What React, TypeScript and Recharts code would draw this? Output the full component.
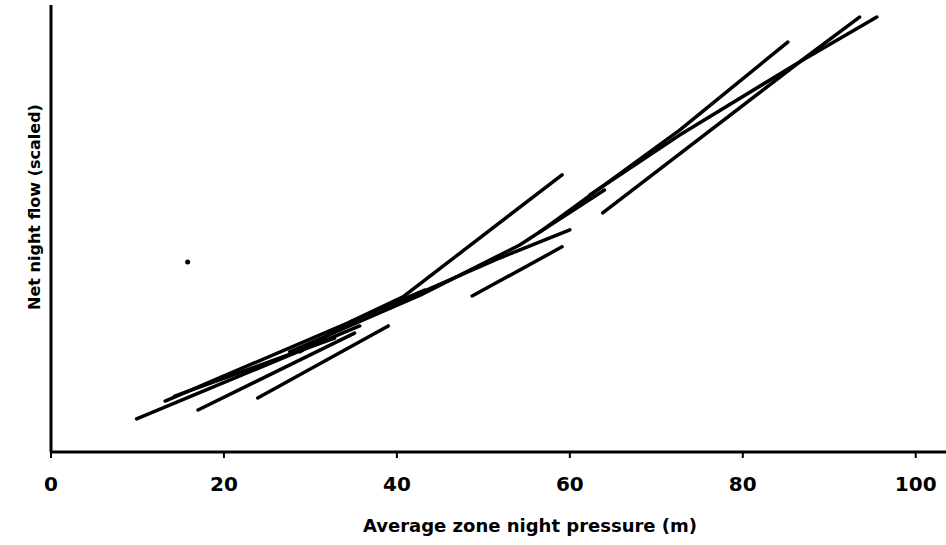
import React from 'react';
import { ComposedChart, Line, Scatter, XAxis, YAxis, Label } from 'recharts';

// Average zone night pressure (m) vs net night flow (scaled) — one fitted segment per zone
const zone1 = [{ p: 9.9, q: 7.4 }, { p: 35.7, q: 28.2 }];
const zone2 = [{ p: 13.2, q: 11.4 }, { p: 43.2, q: 36.2 }];
const zone3 = [{ p: 17.0, q: 9.4 }, { p: 35.1, q: 26.6 }];
const zone4 = [{ p: 23.9, q: 12.1 }, { p: 39.0, q: 28.2 }];
const zone5 = [{ p: 14.3, q: 12.5 }, { p: 32.8, q: 25.5 }];
const zone6 = [{ p: 27.6, q: 22.4 }, { p: 42.7, q: 35.1 }, { p: 54.2, q: 46.3 }, { p: 64.0, q: 58.6 }];
const zone7 = [{ p: 28.8, q: 22.4 }, { p: 34.6, q: 29.1 }, { p: 40.7, q: 34.7 }, { p: 59.1, q: 62.0 }];
const zone8 = [{ p: 48.7, q: 34.9 }, { p: 59.1, q: 45.9 }];
const zone9 = [{ p: 40.3, q: 33.6 }, { p: 51.9, q: 43.4 }, { p: 60.0, q: 49.7 }];
const zone10 = [{ p: 56.5, q: 49.2 }, { p: 72.7, q: 72.0 }, { p: 85.2, q: 91.7 }];
const zone11 = [{ p: 63.8, q: 53.5 }, { p: 86.6, q: 87.3 }, { p: 95.5, q: 97.3 }];
const zone12 = [{ p: 62.3, q: 57.5 }, { p: 72.7, q: 70.9 }, { p: 86.6, q: 87.3 }, { p: 93.5, q: 97.3 }];
const strayMark = [{ p: 15.8, q: 42.5 }];

const zones = [zone1, zone2, zone3, zone4, zone5, zone6, zone7, zone8, zone9, zone10, zone11, zone12];

const xTicks = [0, 20, 40, 60, 80, 100];
const xTitle = 'Average zone night pressure (m)';
const yTitle = 'Net night flow (scaled)';

const FONT = 'DejaVu Sans';

export default function App() {
  return (
    <div style={{ position: 'absolute', left: 0, top: 0, background: '#fff' }}>
      <ComposedChart width={946} height={545} margin={{ top: 5, right: 0, bottom: 0, left: 0 }}>
        <XAxis
          type="number"
          dataKey="p"
          domain={[0, 103.5]}
          ticks={xTicks}
          allowDataOverflow
          height={93}
          stroke="#000"
          strokeWidth={3}
          tickSize={6}
          tickMargin={19}
          tick={{ fill: '#000', fontSize: 20, fontFamily: FONT, fontWeight: 700 }}
          tickLine={{ stroke: '#000', strokeWidth: 2 }}
        >
          <Label
            content={() => (
              <text x={530} y={532} textAnchor="middle" fill="#000" fontSize={18} fontFamily={FONT} fontWeight={700}>
                {xTitle}
              </text>
            )}
          />
        </XAxis>
        <YAxis
          type="number"
          dataKey="q"
          domain={[0, 100]}
          width={51}
          tick={false}
          tickLine={false}
          stroke="#000"
          strokeWidth={3}
        >
          <Label
            content={() => (
              <text
                x={0}
                y={0}
                transform="translate(40, 207) rotate(-90)"
                textAnchor="middle"
                fill="#000"
                fontSize={16}
                fontFamily={FONT}
                fontWeight={700}
              >
                {yTitle}
              </text>
            )}
          />
        </YAxis>
        {zones.map((z, i) => (
          <Line
            key={i}
            data={z}
            dataKey="q"
            type="linear"
            stroke="#000"
            strokeWidth={3.5}
            strokeLinecap="round"
            strokeLinejoin="round"
            dot={false}
            activeDot={false}
            isAnimationActive={false}
          />
        ))}
        <Scatter
          data={strayMark}
          dataKey="q"
          fill="#000"
          isAnimationActive={false}
          shape={(props: any) => <circle cx={props.cx} cy={props.cy} r={2.5} fill="#000" />}
        />
      </ComposedChart>
    </div>
  );
}
